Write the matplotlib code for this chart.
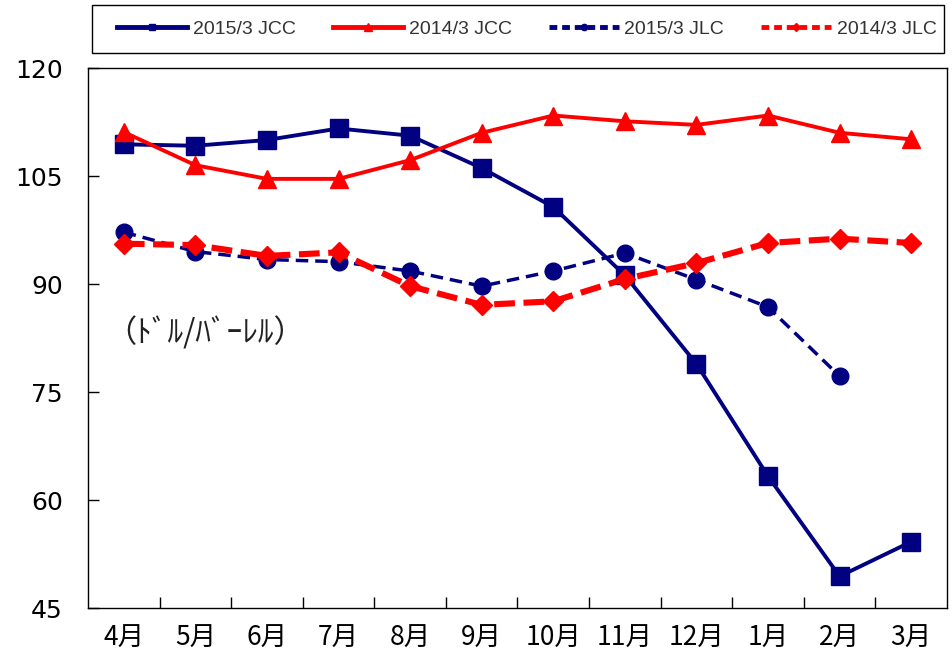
import matplotlib
matplotlib.use("Agg")
import matplotlib.pyplot as plt
import matplotlib.lines as mlines
from matplotlib.patches import Rectangle
from matplotlib.ticker import FixedLocator, NullFormatter

plt.rcParams['font.family'] = ['Noto Sans CJK JP', 'DejaVu Sans']

months = ["4月", "5月", "6月", "7月", "8月", "9月", "10月", "11月", "12月", "1月", "2月", "3月"]
jcc_2015 = [109.4, 109.2, 110.0, 111.6, 110.6, 106.1, 100.7, 91.2, 78.9, 63.3, 49.4, 54.2]
jcc_2014 = [111.1, 106.5, 104.6, 104.6, 107.2, 111.0, 113.4, 112.6, 112.1, 113.4, 111.0, 110.1]
jlc_2015 = [97.2, 94.5, 93.4, 93.1, 91.8, 89.7, 91.8, 94.3, 90.6, 86.8, 77.2]
jlc_2014 = [95.6, 95.4, 93.9, 94.4, 89.7, 87.1, 87.6, 90.7, 92.9, 95.7, 96.3, 95.7]
labels = ["2015/3 JCC", "2014/3 JCC", "2015/3 JLC", "2014/3 JLC"]
yticks = [45, 60, 75, 90, 105, 120]

navy = "#000080"
red = "#ff0000"

fig = plt.figure(figsize=(9.53, 6.63), dpi=100)
ax = fig.add_axes([88/953, 1-608/663, (947-88)/953, (608-68)/663])

x = list(range(len(months)))
ax.plot(x, jcc_2015, color=navy, lw=2.8, marker="s", ms=13, label=labels[0], zorder=3)
ax.plot(x, jcc_2014, color=red, lw=2.8, marker="^", ms=13, label=labels[1], zorder=3)
ax.plot(x[:len(jlc_2015)], jlc_2015, color=navy, lw=2.5, ls=(0, (3.6, 2.0)), marker="o", ms=12,
        label=labels[2], zorder=3)
ax.plot(x, jlc_2014, color=red, lw=4.4, ls=(0, (3.4, 1.4)), marker="D", ms=10,
        label=labels[3], zorder=4)

ax.set_xlim(-0.5, len(months) - 0.5)
ax.set_ylim(45, 120)
ax.set_yticks(yticks)
ax.set_yticklabels([str(v) for v in yticks], family=["DejaVu Sans"], fontsize=18)
ax.tick_params(axis="y", direction="in", length=8, width=1, pad=18)

ax.set_xticks(x)
ax.set_xticklabels(months, fontsize=19)
ax.tick_params(axis="x", which="major", length=0, pad=12)
ax.xaxis.set_minor_locator(FixedLocator([i + 0.5 for i in range(len(months) - 1)]))
ax.xaxis.set_minor_formatter(NullFormatter())
ax.tick_params(axis="x", which="minor", direction="in", length=8, width=1)

for s in ax.spines.values():
    s.set_linewidth(1.0)
    s.set_color("black")

ax.text(0.02, 0.51, "（ﾄﾞﾙ/ﾊﾞｰﾚﾙ）", transform=ax.transAxes, fontsize=22.5,
        ha="left", va="center", color="#222222")

# legend frame
fig.patches.append(Rectangle((92/953, 1-53/663), 852/953, 48/663, transform=fig.transFigure,
                             fill=False, edgecolor="black", lw=1.0))

h1 = mlines.Line2D([], [], color=navy, lw=3.5, marker="s", ms=4.5)
h2 = mlines.Line2D([], [], color=red, lw=3.5, marker="^", ms=6)
h3 = mlines.Line2D([], [], color=navy, lw=3.5, ls=(0, (1.6, 1.0)), marker="o", ms=4.5)
h4 = mlines.Line2D([], [], color=red, lw=3.5, ls=(0, (1.6, 1.0)), marker="D", ms=4.5)
leg = fig.legend([h1, h2, h3, h4], labels, ncol=4, loc="center",
                 bbox_to_anchor=(527/953, 1-29/663),
                 frameon=False, handlelength=3.6, handletextpad=0.3, borderaxespad=0,
                 columnspacing=1.9, borderpad=0,
                 prop={"family": ["Liberation Sans", "DejaVu Sans"], "size": 14})
for t in leg.get_texts():
    t.set_color("#333333")

fig.savefig("out.png", dpi=100)
